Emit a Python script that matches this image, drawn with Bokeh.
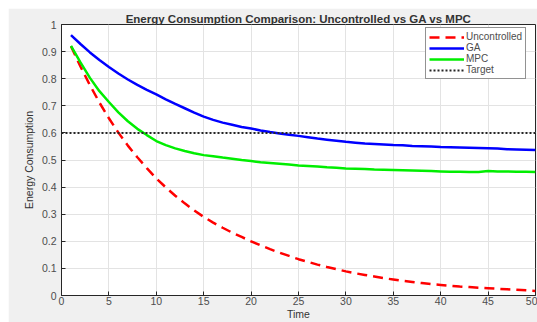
from bokeh.plotting import figure
from bokeh.models import FixedTicker, Legend, LegendItem, Range1d
from bokeh.embed import file_html
from bokeh.resources import INLINE

time = list(range(1, 51))
uncontrolled = [0.920, 0.845, 0.776, 0.712, 0.654, 0.601, 0.553, 0.510, 0.470, 0.432,
                0.399, 0.368, 0.340, 0.314, 0.290, 0.269, 0.250, 0.232, 0.216, 0.200,
                0.185, 0.171, 0.158, 0.146, 0.134, 0.124, 0.114, 0.105, 0.097, 0.089,
                0.082, 0.076, 0.070, 0.064, 0.059, 0.054, 0.050, 0.046, 0.042, 0.039,
                0.036, 0.033, 0.031, 0.029, 0.027, 0.025, 0.023, 0.021, 0.019, 0.017]
ga = [0.961, 0.928, 0.897, 0.869, 0.843, 0.819, 0.797, 0.777, 0.759, 0.742,
      0.724, 0.707, 0.691, 0.675, 0.660, 0.648, 0.638, 0.630, 0.622, 0.616,
      0.609, 0.603, 0.598, 0.593, 0.589, 0.584, 0.579, 0.575, 0.571, 0.567,
      0.564, 0.561, 0.559, 0.557, 0.555, 0.554, 0.552, 0.551, 0.550, 0.548,
      0.547, 0.546, 0.545, 0.544, 0.543, 0.542, 0.540, 0.539, 0.538, 0.537]
mpc = [0.921, 0.860, 0.803, 0.754, 0.714, 0.676, 0.643, 0.615, 0.592, 0.570,
       0.555, 0.543, 0.533, 0.525, 0.518, 0.514, 0.509, 0.505, 0.500, 0.496,
       0.492, 0.489, 0.486, 0.483, 0.480, 0.478, 0.476, 0.473, 0.471, 0.469,
       0.468, 0.467, 0.465, 0.464, 0.463, 0.462, 0.461, 0.460, 0.459, 0.458,
       0.457, 0.457, 0.456, 0.456, 0.459, 0.458, 0.458, 0.457, 0.457, 0.456]
target_value = 0.6
target_x = [0, 50]

x_ticks = [0, 5, 10, 15, 20, 25, 30, 35, 40, 45, 50]
x_tick_labels = ["0", "5", "10", "15", "20", "25", "30", "35", "40", "45", "50"]
y_ticks = [0, 0.1, 0.2, 0.3, 0.4, 0.5, 0.6, 0.7, 0.8, 0.9, 1.0]
y_tick_labels = ["0", "0.1", "0.2", "0.3", "0.4", "0.5", "0.6", "0.7", "0.8", "0.9", "1"]

FONT = "Liberation Sans"
TXT = "#4d4d4d"

p = figure(width=529, height=314, output_backend="svg", toolbar_location=None,
           x_range=Range1d(0, 50), y_range=Range1d(0, 1),
           min_border_left=53, min_border_right=2, min_border_top=16, min_border_bottom=26,
           title="Energy Consumption Comparison: Uncontrolled vs GA vs MPC")
p.margin = (8, 0, 0, 8)
p.border_fill_color = "#f0f0f0"
p.background_fill_color = "white"
p.outline_line_color = "#262626"
p.outline_line_width = 1

p.title.text_font = FONT
p.title.text_font_size = "11.5px"
p.title.text_font_style = "bold"
p.title.text_color = "#333333"
p.title.align = "center"
p.title.standoff = 0
p.title.offset = 0

for ax, ticks, labels in ((p.xaxis[0], x_ticks, x_tick_labels), (p.yaxis[0], y_ticks, y_tick_labels)):
    ax.ticker = FixedTicker(ticks=ticks)
    ax.major_label_overrides = {t: l for t, l in zip(ticks, labels)}
    ax.major_label_text_font = FONT
    ax.major_label_text_font_size = "10.5px"
    ax.major_label_text_color = TXT
    ax.axis_label_text_font = FONT
    ax.axis_label_text_font_size = "10.5px"
    ax.axis_label_text_font_style = "normal"
    ax.axis_label_text_color = "#333333"
    ax.major_tick_in = 4
    ax.major_tick_out = 0
    ax.minor_tick_line_color = None
    ax.axis_line_color = "#262626"
    ax.major_tick_line_color = "#262626"
p.xaxis[0].axis_label = "Time"
p.yaxis[0].axis_label = "Energy Consumption"
p.xaxis[0].major_label_standoff = 1
p.xaxis[0].axis_label_standoff = 0
p.yaxis[0].major_label_standoff = 5
p.yaxis[0].axis_label_standoff = 4

p.xgrid.ticker = FixedTicker(ticks=x_ticks)
p.ygrid.ticker = FixedTicker(ticks=y_ticks)
p.grid.grid_line_color = "#e3e3e3"
p.grid.grid_line_width = 1

r_unc = p.line(time, uncontrolled, line_color="#ff0000", line_width=2.5, line_dash="10 6")
r_ga = p.line(time, ga, line_color="#0000ff", line_width=2.5)
r_mpc = p.line(time, mpc, line_color="#00ee00", line_width=2.5)
r_tgt = p.line(target_x, [target_value, target_value], line_color="#262626",
               line_width=2, line_dash="2 2")

legend = Legend(items=[LegendItem(label="Uncontrolled", renderers=[r_unc]),
                       LegendItem(label="GA", renderers=[r_ga]),
                       LegendItem(label="MPC", renderers=[r_mpc]),
                       LegendItem(label="Target", renderers=[r_tgt])],
                location=(364, 216))
legend.label_text_font = FONT
legend.label_text_font_size = "10px"
legend.label_text_color = TXT
legend.label_height = 10
legend.glyph_height = 10
legend.glyph_width = 35
legend.label_standoff = 2
legend.spacing = 0
legend.padding = 3
legend.margin = 0
legend.border_line_color = "#262626"
legend.border_line_width = 1
legend.background_fill_color = "white"
legend.background_fill_alpha = 1
p.add_layout(legend, "center")

open("out.html", "w").write(file_html(p, INLINE))
